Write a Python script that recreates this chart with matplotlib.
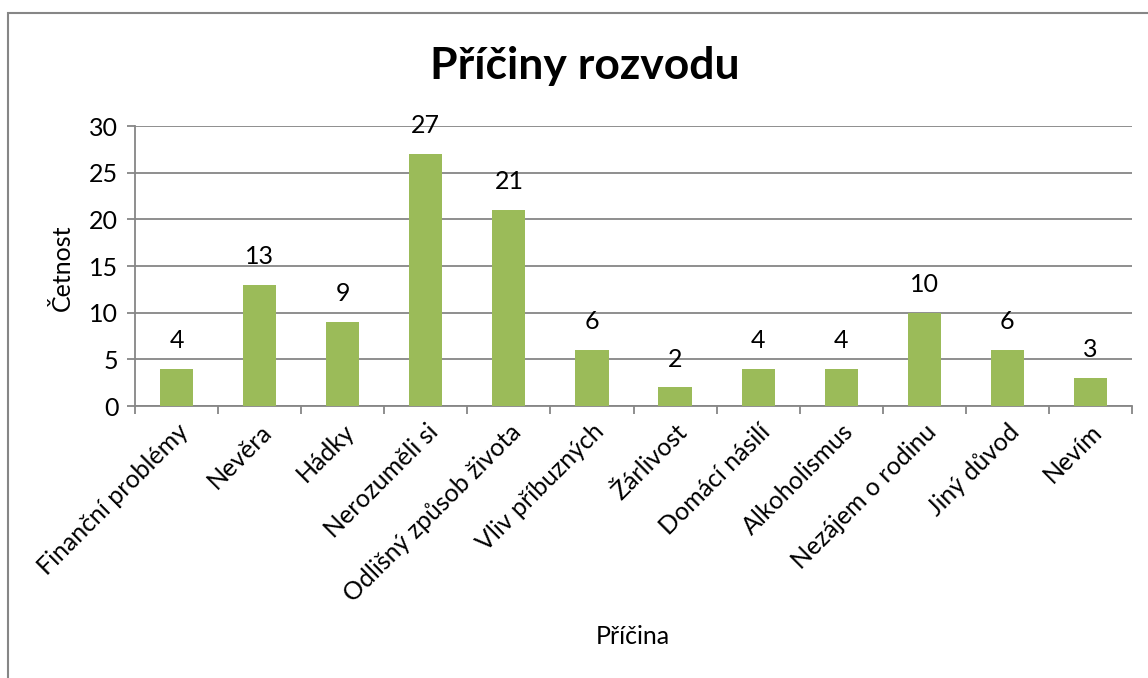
import matplotlib
matplotlib.use("Agg")
import matplotlib.pyplot as plt
from matplotlib.patches import Rectangle

categories = ["Finanční problémy", "Nevěra", "Hádky", "Nerozuměli si",
              "Odlišný způsob života", "Vliv příbuzných", "Žárlivost",
              "Domácí násilí", "Alkoholismus", "Nezájem o rodinu",
              "Jiný důvod", "Nevím"]
counts = [4, 13, 9, 27, 21, 6, 2, 4, 4, 10, 6, 3]
yticks = [0, 5, 10, 15, 20, 25, 30]

plt.rcParams["font.family"] = ["Lato", "DejaVu Sans"]
GRID = "#868686"
BAR = "#9BBB59"
FS = 18

fig = plt.figure(figsize=(11.48, 6.78), dpi=100)
ax = fig.add_axes([135 / 1148, 1 - 406 / 678, (1132 - 135) / 1148, (406 - 126) / 678])

# chart area border
fig.patches.append(Rectangle((8 / 1148, -0.1), 1.2, 1 - 13 / 678 + 0.1,
                             transform=fig.transFigure, fill=False,
                             edgecolor=GRID, lw=1.5))

x = list(range(len(categories)))
ax.bar(x, counts, width=0.4, color=BAR, zorder=3)
for xi, c in zip(x, counts):
    ax.annotate(str(c), (xi, c), xytext=(0, 12), textcoords="offset points",
                ha="center", va="bottom", fontsize=FS)

ax.set_xlim(-0.5, len(categories) - 0.5)
ax.set_ylim(0, 30)
ax.set_yticks(yticks)
ax.yaxis.grid(True, color=GRID, lw=1.3, zorder=0)
ax.tick_params(axis="y", length=6, color=GRID, width=1.3, labelsize=FS, pad=6)

# category boundary ticks
ax.set_xticks([i - 0.5 for i in range(len(categories) + 1)], minor=False)
ax.set_xticklabels([])
ax.set_xticks(x, minor=True)
ax.set_xticklabels(categories, minor=True, rotation=45, ha="right",
                   rotation_mode="anchor", fontsize=FS)
ax.tick_params(axis="x", which="major", length=6, color=GRID, width=1.3)
ax.tick_params(axis="x", which="minor", length=0, pad=10)

for side in ["top", "right"]:
    ax.spines[side].set_visible(False)
for side in ["left", "bottom"]:
    ax.spines[side].set_color(GRID)
    ax.spines[side].set_linewidth(1.3)

fig.text(62 / 1148, 1 - 268 / 678, "Četnost", ha="center", va="center",
         rotation=90, fontsize=FS)
fig.text(633 / 1148, 1 - 637 / 678, "Příčina", ha="center", va="center", fontsize=FS)
fig.text(585 / 1148, 1 - 66 / 678, "Příčiny rozvodu", ha="center", va="center",
         fontsize=32, fontweight="bold")

fig.savefig("out.png", dpi=100)
